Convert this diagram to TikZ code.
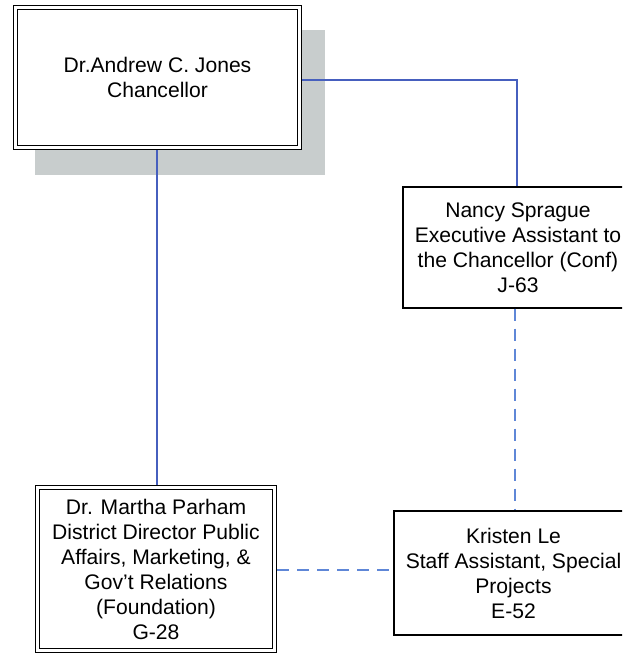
\documentclass[tikz,border=0pt]{standalone}
\usepackage{fontspec}
\setmainfont{Liberation Sans}
\definecolor{linkblue}{RGB}{70,95,190}
\definecolor{dashblue}{RGB}{95,135,215}
\definecolor{shadowgray}{RGB}{200,205,205}
\tikzset{
  box/.style={draw=black, fill=white, line width=1.3pt, inner sep=0pt, align=center,
    font=\fontsize{21.1}{25}\selectfont},
  innerframe/.style={draw=black, line width=1.2pt},
  solidlink/.style={draw=linkblue, line width=1.2pt},
  dashlink/.style={draw=dashblue, line width=1.2pt, dash pattern=on 12pt off 8pt}
}
\begin{document}
\begin{tikzpicture}[x=1pt,y=-1pt]
\useasboundingbox (0,0) rectangle (622,654);
\clip (0,0) rectangle (622,654);
\fill[shadowgray] (35,30) rectangle (325,175);
\node[box, line width=1.2pt, minimum width=287.8pt, minimum height=143.8pt] (chan) at (157.5,77.5)
  {Dr.Andrew C. Jones\\Chancellor};
\draw[innerframe] ([xshift=4.8pt,yshift=-4.8pt]chan.north west) rectangle ([xshift=-4.8pt,yshift=4.8pt]chan.south east);
\node[box, minimum width=230pt, minimum height=121pt] (nancy) at (518,247.5)
  {Nancy Sprague\\Executive Assistant to\\the Chancellor (Conf)\\J-63};
\node[box, line width=1.2pt, minimum width=240.8pt, minimum height=166.8pt] (martha) at (156,569)
  {Dr. Martha Parham\\District Director Public\\Affairs, Marketing, \&\\Gov't Relations\\(Foundation)\\G-28};
\draw[innerframe] ([xshift=4.6pt,yshift=-4.2pt]martha.north west) rectangle ([xshift=-4.2pt,yshift=4.6pt]martha.south east);
\node[box, minimum width=239pt, minimum height=124pt] (kristen) at (513.5,573)
  {Kristen Le\\Staff Assistant, Special\\Projects\\E-52};
\coordinate (nturn) at ([xshift=-1pt]nancy.north);
\draw[solidlink] ([yshift=-2.5pt]chan.east) -| (nturn);
\coordinate (cdown) at ([xshift=-0.5pt]chan.south);
\draw[solidlink] (cdown) -- (cdown |- martha.north);
\coordinate (ndash) at ([xshift=-3pt]nancy.south);
\draw[dashlink] (ndash) -- (ndash |- kristen.north);
\draw[dashlink] ([yshift=-1pt]martha.east) -- ([yshift=-1pt]martha.east -| kristen.west);
\end{tikzpicture}
\end{document}
